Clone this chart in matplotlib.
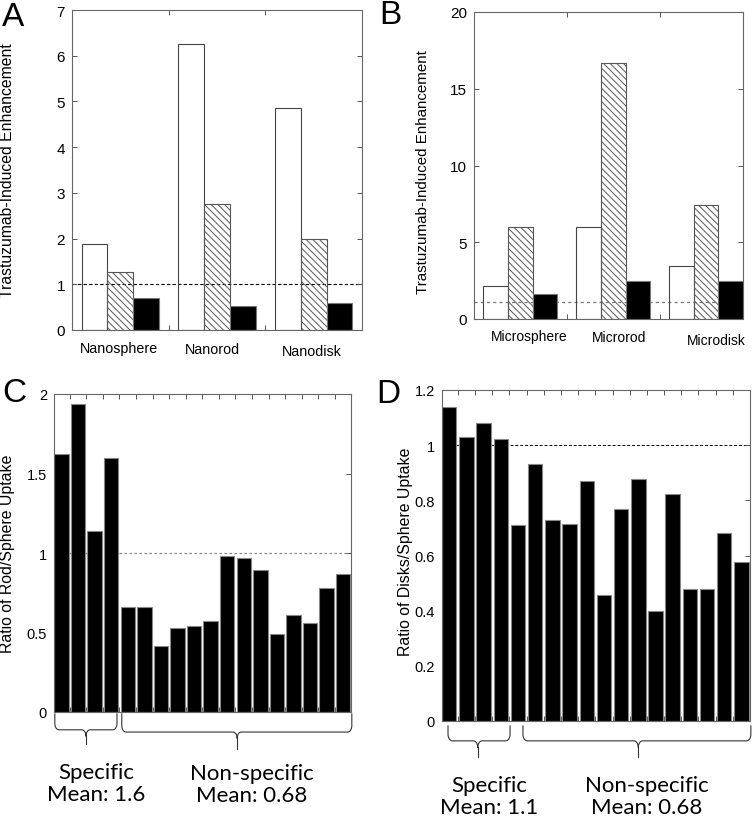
#importing packages
import numpy as np
import matplotlib
matplotlib.use('Agg')
import matplotlib.pyplot as plt
import matplotlib.transforms as mtransforms

plt.rcParams['font.family'] = ['Liberation Sans', 'DejaVu Sans']
plt.rcParams['hatch.linewidth'] = 0.7

#panel A values (nano particles)
nano_labels = ['Nanosphere', 'Nanorod', 'Nanodisk']
nano_white = [1.88, 6.25, 4.85]
nano_hatched = [1.27, 2.75, 2.0]
nano_black = [0.70, 0.52, 0.60]

#panel B values (micro particles)
micro_labels = ['Microsphere', 'Microrod', 'Microdisk']
micro_white = [2.15, 6.0, 3.45]
micro_hatched = [6.0, 16.7, 7.45]
micro_black = [1.63, 2.48, 2.48]

#panel C and D ratios (first 4 = specific, rest = non-specific)
rod_ratio = [1.62, 1.94, 1.14, 1.60, 0.66, 0.66, 0.415, 0.53, 0.54, 0.575,
             0.98, 0.97, 0.89, 0.49, 0.61, 0.56, 0.78, 0.87]
disk_ratio = [1.14, 1.03, 1.08, 1.024, 0.71, 0.93, 0.728, 0.715, 0.87, 0.455,
              0.768, 0.878, 0.40, 0.822, 0.48, 0.478, 0.682, 0.578]

rod_means = ['Specific\nMean: 1.6', 'Non-specific\nMean: 0.68']
disk_means = ['Specific\nMean: 1.1', 'Non-specific\nMean: 0.68']

W, H = 756, 820
fig = plt.figure(figsize=(W / 100, H / 100), dpi=100)


def px_axes(l, t, r, b):
    return fig.add_axes([l / W, 1 - b / H, (r - l) / W, (b - t) / H])


def style_axes(ax, size):
    for s in ax.spines.values():
        s.set_color('#666666')
        s.set_linewidth(0.8)
    ax.tick_params(direction='in', length=3.5, width=0.7, color='#555555',
                   top=True, right=True, labelsize=size, pad=5)
    ax.tick_params(axis='x', labelbottom=False)


def grouped(ax, white, hatched, black, labels, lab_x, lab_y, lab_size):
    w = 0.8 / 3
    x = np.arange(1, len(white) + 1)
    # white and hatched bars are see-through, like the original
    ax.bar(x - w, white, w, facecolor='none', edgecolor='#444444', linewidth=0.8, zorder=2)
    ax.bar(x, hatched, w, facecolor='none', edgecolor='#555555', linewidth=0.8,
           hatch='\\\\\\\\\\', zorder=2)
    ax.bar(x + w, black, w, color='black', edgecolor='#777777', linewidth=0.8, zorder=2)
    ax.set_xticks(x[:-1] + 0.5)
    trans = mtransforms.blended_transform_factory(ax.transData, ax.transAxes)
    for lab, lx, ly in zip(labels, lab_x, lab_y):
        ax.text(lx, ly, lab, transform=trans, ha='center', va='top', fontsize=lab_size)


def brace(ax, x0, x1, xt, y_top, y_mid, y_tip, rx, ry):
    trans = mtransforms.blended_transform_factory(ax.transData, ax.transAxes)
    t = np.linspace(0, np.pi / 2, 12)
    pts_x = [x0]
    pts_y = [y_top]
    # left end curl
    pts_x += list(x0 + rx + rx * np.cos(np.pi + t))
    pts_y += list(y_mid + ry + ry * np.sin(np.pi + t))
    # into the tip
    pts_x += list(xt - rx + rx * np.cos(np.pi / 2 - t))
    pts_y += list(y_mid - ry + ry * np.sin(np.pi / 2 - t))
    # out of the tip
    pts_x += list(xt + rx + rx * np.cos(np.pi - t))
    pts_y += list(y_mid - ry + ry * np.sin(np.pi - t))
    # right end curl
    pts_x += list(x1 - rx + rx * np.cos(1.5 * np.pi + t))
    pts_y += list(y_mid + ry + ry * np.sin(1.5 * np.pi + t))
    pts_x.append(x1)
    pts_y.append(y_top)
    ax.plot(pts_x, pts_y, color='#333333', lw=0.8, transform=trans, clip_on=False)
    ax.plot([xt, xt], [y_mid - ry, y_tip], color='#333333', lw=0.8,
            transform=trans, clip_on=False)


#panel A
axA = px_axes(72, 11, 362, 331)
grouped(axA, nano_white, nano_hatched, nano_black, nano_labels,
        [0.99, 1.95, 2.98], [-0.035, -0.038, -0.044], 10.3)
axA.axhline(1, color='black', lw=0.8, dashes=(3, 2), zorder=1)
axA.set_xlim(0.5, 3.5)
axA.set_ylim(0, 7)
axA.set_yticks(range(0, 8))
style_axes(axA, 11)
axA.set_ylabel('Trastuzumab-Induced Enhancement', fontsize=11.3)
axA.yaxis.set_label_coords(-0.197, 0.5)

#panel B
axB = px_axes(474, 13, 743, 320)
grouped(axB, micro_white, micro_hatched, micro_black, micro_labels,
        [1.10, 2.06, 3.11], [-0.031, -0.037, -0.047], 10)
axB.axhline(1.1, color='#777777', lw=0.9, dashes=(2.5, 2.5), zorder=1)
axB.set_xlim(0.5, 3.4)
axB.set_ylim(0, 20)
axB.set_yticks([0, 5, 10, 15, 20])
style_axes(axB, 11)
axB.set_ylabel('Trastuzumab-Induced Enhancement', fontsize=10.9)
axB.yaxis.set_label_coords(-0.164, 0.482)

#panel C
axC = px_axes(54, 395, 351, 713)
xc = np.arange(1, len(rod_ratio) + 1)
axC.bar(xc, rod_ratio, 0.87, color='black', edgecolor='#888888', linewidth=0.8, zorder=2)
axC.axhline(1, color='#888888', lw=0.9, dashes=(2, 2), zorder=1)
axC.set_xlim(0.55, 18.47)
axC.set_ylim(0, 2)
axC.set_xticks(xc[:-1] + 0.5)
axC.set_yticks([0, 0.5, 1, 1.5, 2], labels=['0', '0.5', '1', '1.5', '2'])
style_axes(axC, 10.5)
axC.set_ylabel('Ratio of Rod/Sphere Uptake', fontsize=11.4)
axC.yaxis.set_label_coords(-0.131, 0.5)
brace(axC, 0.6, 4.35, 2.48, -0.006, -0.056, -0.10, 0.25, 0.02)
brace(axC, 4.64, 18.52, 11.6, -0.006, -0.063, -0.116, 0.25, 0.02)

#panel D
axD = px_axes(442, 391, 750, 722)
xd = np.arange(1, len(disk_ratio) + 1)
axD.bar(xd, disk_ratio, 0.84, color='black', edgecolor='#888888', linewidth=0.8, zorder=2)
axD.axhline(1, color='black', lw=0.7, dashes=(3, 2), zorder=1)
axD.set_xlim(0.58, 18.5)
axD.set_ylim(0, 1.2)
axD.set_xticks(xd[:-1] + 0.5)
axD.set_yticks([0, 0.2, 0.4, 0.6, 0.8, 1, 1.2],
               labels=['0', '0.2', '0.4', '0.6', '0.8', '1', '1.2'])
style_axes(axD, 10.5)
axD.set_ylabel('Ratio of Disks/Sphere Uptake', fontsize=11.4)
axD.yaxis.set_label_coords(-0.094, 0.514)
brace(axD, 0.93, 4.54, 2.66, -0.015, -0.06, -0.109, 0.25, 0.02)
brace(axD, 5.29, 18.55, 12.0, -0.015, -0.06, -0.109, 0.25, 0.02)

#mean annotations under C and D
for txt, (cx, cy) in zip(rod_means + disk_means,
                         [(96, 784), (252, 785), (489, 797), (647, 797)]):
    fig.text(cx / W, 1 - cy / H, txt, ha='center', va='center', fontsize=16,
             family=['Lato', 'DejaVu Sans'], linespacing=1.1)

#panel letters
for letter, (lx, ly) in zip('ABCD', [(13, 17), (390, 16), (14, 394), (388, 395)]):
    fig.text(lx / W, 1 - ly / H, letter, ha='center', va='center', fontsize=24)

plt.savefig('out.png', dpi=100)
